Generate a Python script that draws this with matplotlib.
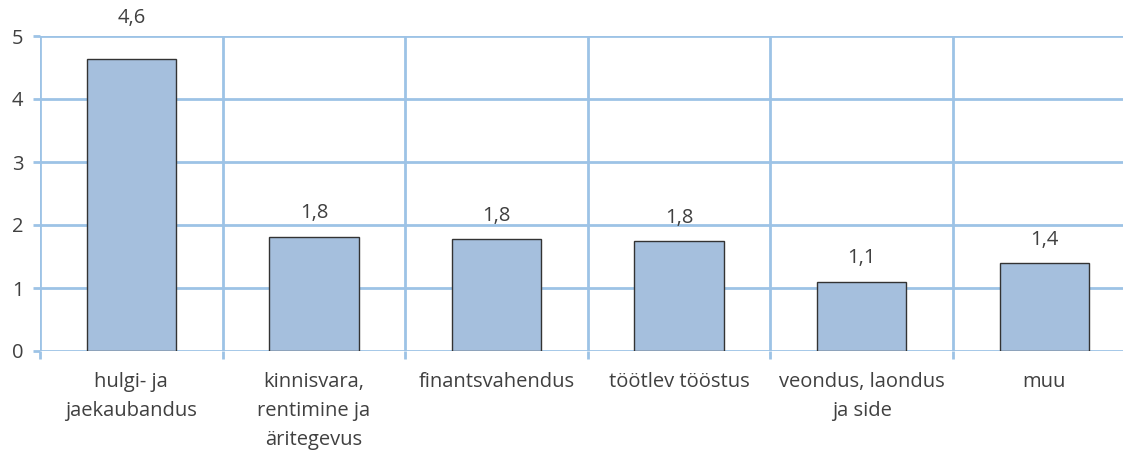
import numpy as np
import matplotlib.pyplot as plt

plt.rcParams['font.family'] = ['Open Sans', 'DejaVu Sans']

categories = ["hulgi- ja\njaekaubandus", "kinnisvara,\nrentimine ja\näritegevus",
              "finantsvahendus", "töötlev tööstus", "veondus, laondus\nja side", "muu"]
values = [4.63, 1.81, 1.77, 1.74, 1.10, 1.39]
labels = ["4,6", "1,8", "1,8", "1,8", "1,1", "1,4"]

W, H = 1123, 454
fig = plt.figure(figsize=(W/100, H/100), dpi=100)
cw = 182.6
ax = fig.add_axes([40/W, (H-351)/H, 6*cw/W, 315/H])

grid_col = '#9DC3E6'
text_col = '#404040'
fs = 14.5
x = np.arange(len(values))
ax.bar(x, values, width=0.49, color='#A5BFDD', edgecolor='#333333', linewidth=1.0, zorder=3)

ax.set_xlim(-0.5, len(values) - 0.5)
ax.set_ylim(0, 5)
ax.set_yticks(range(6))
ax.set_xticks(x)
ax.set_xticklabels(categories, fontsize=fs, color=text_col, linespacing=1.6, va='top')
ax.tick_params(axis='x', length=0, pad=15)
ax.tick_params(axis='y', length=5, width=2, color=grid_col, labelsize=fs, labelcolor=text_col, pad=7)

ax.set_xticks(np.arange(-0.5, len(values)), minor=True)
ax.tick_params(axis='x', which='minor', length=6, width=2, color=grid_col)
ax.grid(True, axis='y', color=grid_col, linewidth=2, zorder=0)
ax.grid(True, axis='x', which='minor', color=grid_col, linewidth=2, zorder=0)
ax.grid(False, axis='x', which='major')
for s in ax.spines.values():
    s.set_visible(False)

for i, (v, lab) in enumerate(zip(values, labels)):
    off = 30 if v > 4.5 else 17
    ax.annotate(lab, (i, v), xytext=(0, off), textcoords='offset points',
                ha='center', va='center', fontsize=fs, color=text_col, annotation_clip=False)

fig.savefig('out.png', dpi=100)
